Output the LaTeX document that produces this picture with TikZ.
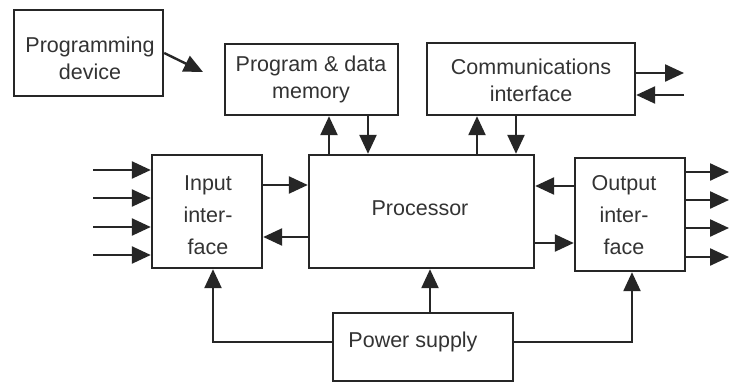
\documentclass[tikz,border=0pt]{standalone}
\usepackage{fontspec}
\setmainfont{Liberation Sans}
\usetikzlibrary{arrows.meta}
\begin{document}
\begin{tikzpicture}[x=1pt,y=-1pt,
 box/.style={draw=black!85, line width=2.4pt, inner sep=0pt},
 txt/.style={font=\fontsize{21.5}{27}\selectfont, text=black!80, align=center, inner sep=0pt},
 txtw/.style={txt, font=\fontsize{21.5}{32}\selectfont},
 arr/.style={line width=2.4pt, draw=black!85, -{Triangle[length=19pt,width=17pt]}}]
\useasboundingbox[fill=white] (0,0) rectangle (729,383);
% boxes
\node[box, minimum width=149pt, minimum height=86pt] (prog) at (88.5,53) {};
\node[box, minimum width=173pt, minimum height=71pt] (mem) at (311.5,79.5) {};
\node[box, minimum width=208pt, minimum height=72pt] (comm) at (531,79) {};
\node[box, minimum width=110pt, minimum height=113pt] (inp) at (207,211.5) {};
\node[box, minimum width=225pt, minimum height=113pt] (proc) at (421.5,211.5) {};
\node[box, minimum width=110pt, minimum height=113pt] (out) at (630,214.5) {};
\node[box, minimum width=180pt, minimum height=68pt] (pow) at (423,347) {};
% texts
\node[txt] (tprog) at (90,58) {Programming\\device};
\node[txt] (tmem) at (311,79) {Program \& data\\memory};
\node[txt] (tcomm) at (531,80) {Communications\\interface};
\node[txt] (tproc) at (420,208) {Processor};
\node[txtw] (tinp) at (208,215) {Input\\inter-\\face};
\node[txtw] (tout) at (624,215) {Output\\inter-\\face};
\node[txt] (tpow) at (413,342) {Power supply};
% helper coordinates
\coordinate (pd) at (203,72);
\coordinate (xm1) at (329,0);
\coordinate (xm2) at (368,0);
\coordinate (xc1) at (477,0);
\coordinate (xc2) at (516,0);
\coordinate (co1) at (684,73);
\coordinate (co2) at (684,95);
\coordinate (yi1) at (0,185);
\coordinate (yi2) at (0,237);
\coordinate (yo1) at (0,186);
\coordinate (yo2) at (0,243);
\coordinate (xp) at (430,0);
\coordinate (pl) at (213,342);
\coordinate (pr) at (632,342);
\coordinate (i1) at (93,170);
\coordinate (i2) at (93,198);
\coordinate (i3) at (93,227);
\coordinate (i4) at (93,255);
\coordinate (o1) at (729,172);
\coordinate (o2) at (729,200);
\coordinate (o3) at (729,228);
\coordinate (o4) at (729,257);
% connectors
\draw[arr] (prog.east) -- (pd);
\draw[arr] (proc.north -| xm1) -- (mem.south -| xm1);
\draw[arr] (mem.south -| xm2) -- (proc.north -| xm2);
\draw[arr] (proc.north -| xc1) -- (comm.south -| xc1);
\draw[arr] (comm.south -| xc2) -- (proc.north -| xc2);
\draw[arr] (comm.east |- co1) -- (co1);
\draw[arr] (co2) -- (comm.east |- co2);
\foreach \k in {1,2,3,4} \draw[arr] (i\k) -- (inp.west |- i\k);
\foreach \k in {1,2,3,4} \draw[arr] (out.east |- o\k) -- (o\k);
\draw[arr] (inp.east |- yi1) -- (proc.west |- yi1);
\draw[arr] (proc.west |- yi2) -- (inp.east |- yi2);
\draw[arr] (out.west |- yo1) -- (proc.east |- yo1);
\draw[arr] (proc.east |- yo2) -- (out.west |- yo2);
\draw[arr] (pow.north -| xp) -- (proc.south -| xp);
\draw[arr] (pow.west |- pl) -- (pl) -- (inp.south -| pl);
\draw[arr] (pow.east |- pr) -- (pr) -- (out.south -| pr);
\end{tikzpicture}
\end{document}
